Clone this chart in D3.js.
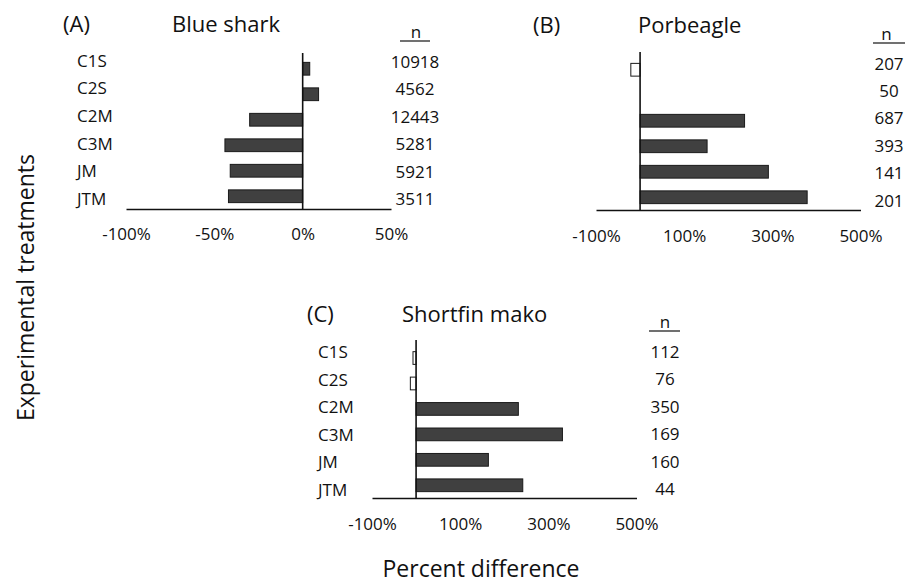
<!DOCTYPE html>
<html>
<head>
<meta charset="utf-8">
<script src="https://cdn.jsdelivr.net/npm/d3@7"></script>
<style>
  html, body { margin: 0; padding: 0; background: #fff; }
  svg { display: block; font-family: "Open Sans", "DejaVu Sans", sans-serif; }
  text { fill: #111; }
</style>
</head>
<body>
<svg id="chart" width="906" height="584"></svg>
<script>
// Treatments (rows, top to bottom)
const categories = ["C1S", "C2S", "C2M", "C3M", "JM", "JTM"];

// Percent difference per treatment
const blueSharkValues  = [4, 9, -30, -44, -41, -42];
const porbeagleValues  = [-21, 0, 237, 152, 291, 379];
const shortfinValues   = [-7, -13, 232, 332, 164, 242];

// Whether each bar is drawn filled (true) or open (false)
const blueSharkFilled  = [true, true, true, true, true, true];
const porbeagleFilled  = [false, false, true, true, true, true];
const shortfinFilled   = [false, false, true, true, true, true];

// Sample sizes
const blueSharkN = [10918, 4562, 12443, 5281, 5921, 3511];
const porbeagleN = [207, 50, 687, 393, 141, 201];
const shortfinN  = [112, 76, 350, 169, 160, 44];

// Axis ticks
const ticksA  = [-100, -50, 0, 50];
const ticksBC = [-100, 100, 300, 500];

const panels = [
  {
    tag: "(A)", title: "Blue shark",
    values: blueSharkValues, filled: blueSharkFilled, n: blueSharkN,
    domain: [-100, 50], ticks: ticksA,
    xRange: [126, 391], yRange: [56, 209], zeroTop: 53,
    tagX: 63, titleX: 172, titleY: 32,
    showLabels: true, labelX: 77, rowY: [66.5, 205],
    nX: 415, nRowY: [67.5, 205], nHeadX: 416, nHeadY: 38, nLine: [400, 430, 41],
    tickY: 240
  },
  {
    tag: "(B)", title: "Porbeagle",
    values: porbeagleValues, filled: porbeagleFilled, n: porbeagleN,
    domain: [-100, 500], ticks: ticksBC,
    xRange: [596, 860.5], yRange: [57, 210], zeroTop: 52,
    tagX: 533, titleX: 638, titleY: 32.5,
    showLabels: false,
    nX: 889, nRowY: [69.5, 206.5], nHeadX: 886.5, nHeadY: 39.5, nLine: [873, 905, 43],
    tickY: 241.5
  },
  {
    tag: "(C)", title: "Shortfin mako",
    values: shortfinValues, filled: shortfinFilled, n: shortfinN,
    domain: [-100, 500], ticks: ticksBC,
    xRange: [372, 636.5], yRange: [345.3, 498], zeroTop: 340,
    tagX: 307, titleX: 402, titleY: 321.5,
    showLabels: true, labelX: 318, rowY: [358, 496],
    nX: 665, nRowY: [358, 495], nHeadX: 665, nHeadY: 328.3, nLine: [649, 680, 331],
    tickY: 530
  }
];

const svg = d3.select("#chart");
const fmt = d => d + "%";

panels.forEach(p => {
  const g = svg.append("g");
  const x = d3.scaleLinear().domain(p.domain).range(p.xRange);
  const y = d3.scaleBand().domain(categories).range(p.yRange)
    .paddingInner(0.5).paddingOuter(0.25);

  // Bars
  g.selectAll("rect.bar")
    .data(categories.map((c, i) => ({ c, v: p.values[i], f: p.filled[i] })))
    .join("rect")
    .attr("class", "bar")
    .attr("x", d => x(Math.min(0, d.v)))
    .attr("width", d => Math.abs(x(d.v) - x(0)))
    .attr("y", d => y(d.c))
    .attr("height", y.bandwidth())
    .attr("fill", d => d.f ? "#404040" : "#ffffff")
    .attr("stroke", "#1a1a1a")
    .attr("stroke-width", 1)
    .attr("display", d => d.v === 0 ? "none" : null);

  // Horizontal baseline (x axis line) with percentage tick labels, no tick marks
  const axis = d3.axisBottom(x).tickValues(p.ticks).tickFormat(fmt)
    .tickSize(0).tickPadding(0);
  const ax = g.append("g")
    .attr("transform", `translate(0,${p.yRange[1]})`)
    .call(axis);
  ax.select(".domain").attr("stroke", "#111").attr("stroke-width", 1.6);
  ax.selectAll(".tick text")
    .attr("y", p.tickY - p.yRange[1])
    .attr("dy", null)
    .style("font-family", "'Open Sans', sans-serif")
    .style("font-size", "17px")
    .attr("fill", "#111");

  // Zero line
  g.append("line")
    .attr("x1", x(0)).attr("x2", x(0))
    .attr("y1", p.zeroTop).attr("y2", p.yRange[1])
    .attr("stroke", "#111").attr("stroke-width", 1.6);

  // Panel tag and species title
  g.append("text").attr("x", p.tagX).attr("y", p.titleY)
    .style("font-size", "22px").text(p.tag);
  g.append("text").attr("x", p.titleX).attr("y", p.titleY)
    .style("font-size", "22px").text(p.title);

  // Treatment labels
  if (p.showLabels) {
    const ly = d3.scalePoint().domain(categories).range(p.rowY);
    g.selectAll("text.cat").data(categories).join("text")
      .attr("class", "cat")
      .attr("x", p.labelX).attr("y", d => ly(d))
      .style("font-size", "17px").text(d => d);
  }

  // Sample-size column
  const ny = d3.scalePoint().domain(categories).range(p.nRowY);
  g.selectAll("text.n").data(categories).join("text")
    .attr("class", "n")
    .attr("x", p.nX).attr("y", d => ny(d))
    .attr("text-anchor", "middle")
    .style("font-size", "17px")
    .text((d, i) => p.n[i]);
  g.append("text").attr("x", p.nHeadX).attr("y", p.nHeadY)
    .attr("text-anchor", "middle").style("font-size", "17px").text("n");
  g.append("line")
    .attr("x1", p.nLine[0]).attr("x2", p.nLine[1])
    .attr("y1", p.nLine[2]).attr("y2", p.nLine[2])
    .attr("stroke", "#111").attr("stroke-width", 1.2);
});

// Shared axis titles
svg.append("text")
  .attr("transform", "translate(34,287.5) rotate(-90)")
  .attr("text-anchor", "middle")
  .style("font-size", "23px")
  .text("Experimental treatments");

svg.append("text")
  .attr("x", 481).attr("y", 577)
  .attr("text-anchor", "middle")
  .style("font-size", "23px")
  .text("Percent difference");
</script>
</body>
</html>
